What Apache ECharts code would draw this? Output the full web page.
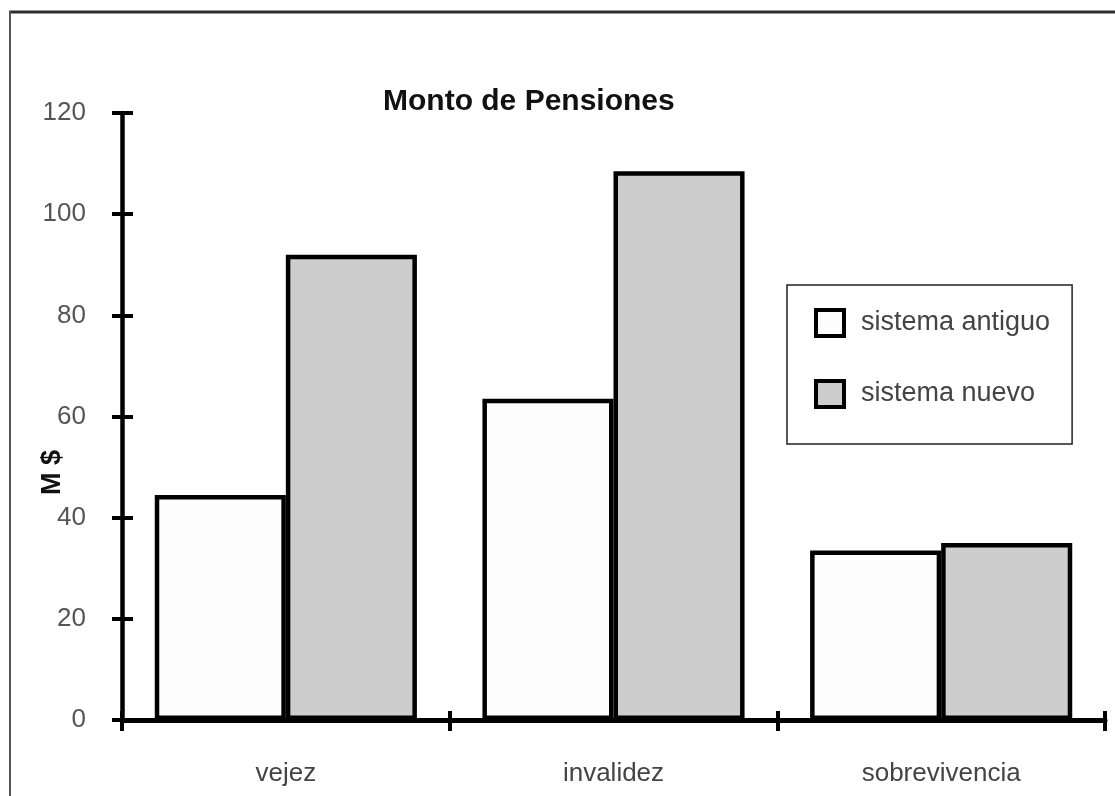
<!DOCTYPE html>
<html>
<head>
<meta charset="utf-8">
<script src="https://cdn.jsdelivr.net/npm/echarts@6/dist/echarts.min.js"></script>
<style>
html,body{margin:0;padding:0;background:#fff;}
#chart{width:1115px;height:796px;}
</style>
</head>
<body>
<div id="chart"></div>
<script>
const categories = ['vejez', 'invalidez', 'sobrevivencia'];
const seriesNames = ['sistema antiguo', 'sistema nuevo'];
const antiguo = [44.5, 63.5, 33.5];
const nuevo = [92, 108.5, 35];
const yTicks = [0, 20, 40, 60, 80, 100, 120];
const titleText = 'Monto de Pensiones';
const yName = 'M $';

const chart = echarts.init(document.getElementById('chart'), null, {renderer: 'canvas'});
const FONT = '"Liberation Sans", Arial, Helvetica, sans-serif';

const option = {
  backgroundColor: '#ffffff',
  animation: false,
  title: {
    text: titleText,
    left: 383,
    top: 87,
    padding: 0,
    textStyle: {fontFamily: FONT, fontSize: 30, fontWeight: 'bold', color: '#111'}
  },
  graphic: [{
    type: 'line',
    shape: {x1: 9, y1: 12, x2: 1115, y2: 12},
    style: {stroke: '#2e2e2e', lineWidth: 3},
    silent: true
  }, {
    type: 'line',
    shape: {x1: 10, y1: 11, x2: 10, y2: 796},
    style: {stroke: '#555', lineWidth: 2},
    silent: true
  }],
  legend: {
    orient: 'vertical',
    left: 787,
    top: 285,
    padding: [23, 22, 35, 27],
    itemGap: 41,
    itemWidth: 28,
    itemHeight: 26,
    icon: 'rect',
    itemStyle: {borderWidth: 4, borderColor: '#000'},
    backgroundColor: '#fff',
    borderColor: '#222',
    borderWidth: 1.5,
    borderRadius: 0,
    data: seriesNames,
    textStyle: {fontFamily: FONT, fontSize: 27, color: '#444', padding: [0, 0, 0, 12]}
  },
  grid: {left: 122, right: 10, top: 113, bottom: 76, containLabel: false},
  xAxis: [{
    type: 'category',
    data: categories,
    position: 'bottom',
    boundaryGap: true,
    axisLine: {show: true, lineStyle: {color: '#000', width: 5}},
    axisTick: {show: true, inside: false, length: 11, alignWithLabel: false, lineStyle: {color: '#000', width: 4}},
    axisLabel: {margin: 41, fontFamily: FONT, fontSize: 26, color: '#444'},
    splitLine: {show: false}
  }, {
    type: 'category',
    data: categories,
    position: 'bottom',
    boundaryGap: true,
    axisLine: {show: false},
    axisTick: {show: true, inside: true, length: 9, alignWithLabel: false, lineStyle: {color: '#000', width: 4}},
    axisLabel: {show: false},
    splitLine: {show: false}
  }],
  yAxis: [{
    type: 'value',
    min: yTicks[0],
    max: yTicks[yTicks.length - 1],
    interval: yTicks[1] - yTicks[0],
    position: 'left',
    name: yName,
    nameLocation: 'middle',
    nameGap: 56,
    nameRotate: 90,
    nameMoveOverlap: false,
    nameTextStyle: {fontFamily: FONT, fontSize: 27, fontWeight: 'bold', color: '#111', padding: [0, 112, 0, 0]},
    axisLine: {show: true, lineStyle: {color: '#000', width: 4.5}},
    axisTick: {show: true, inside: false, length: 10, lineStyle: {color: '#000', width: 4}},
    axisLabel: {margin: 36, fontFamily: FONT, fontSize: 26, color: '#555'},
    splitLine: {show: false}
  }, {
    type: 'value',
    min: yTicks[0],
    max: yTicks[yTicks.length - 1],
    interval: yTicks[1] - yTicks[0],
    position: 'left',
    axisLine: {show: false},
    axisTick: {show: true, inside: true, length: 11, lineStyle: {color: '#000', width: 4}},
    axisLabel: {show: false},
    splitLine: {show: false}
  }],
  series: [{
    name: seriesNames[0],
    type: 'bar',
    xAxisIndex: 0,
    yAxisIndex: 0,
    data: antiguo,
    barGap: '0%',
    barCategoryGap: '20%',
    itemStyle: {color: '#fdfdfd', borderColor: '#000', borderWidth: 4.5}
  }, {
    name: seriesNames[1],
    type: 'bar',
    xAxisIndex: 0,
    yAxisIndex: 0,
    data: nuevo,
    barGap: '0%',
    barCategoryGap: '20%',
    itemStyle: {color: '#cdcdcd', borderColor: '#000', borderWidth: 4.5}
  }]
};
chart.setOption(option);
</script>
</body>
</html>
